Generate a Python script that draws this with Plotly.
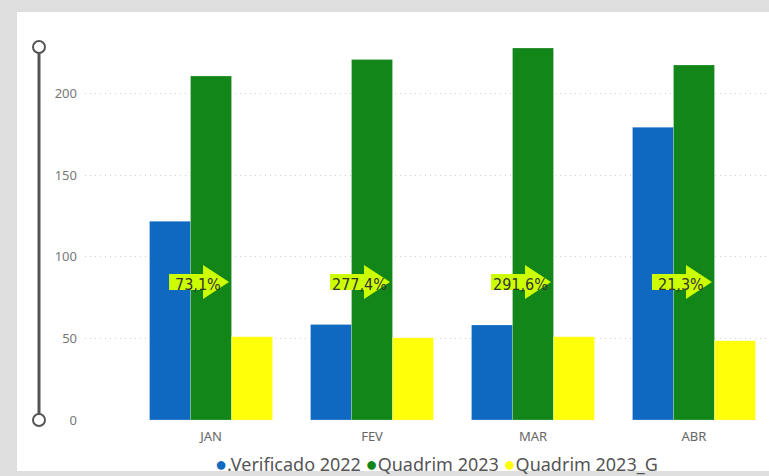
import plotly.graph_objects as go

# Monthly values
months = ["JAN", "FEV", "MAR", "ABR"]
verificado_2022 = [121.7, 58.5, 58.2, 179.3]
quadrim_2023 = [210.7, 220.8, 227.9, 217.5]
quadrim_2023_g = [51.0, 50.4, 51.0, 48.5]
y_ticks = [0, 50, 100, 150, 200]

series_names = [".Verificado 2022", "Quadrim 2023", "Quadrim 2023_G"]
series_colors = ["#1069C1", "#13861A", "#FFFF0A"]

# Growth of Quadrim 2023 over Verificado 2022, shown on the arrows
growth_labels = [
    f"{(g / v - 1) * 100:.1f}".replace(".", ",") + "%"
    for v, g in zip(verificado_2022, quadrim_2023)
]
arrow_level = 84.5

fig = go.Figure()
for name, vals, col in zip(series_names,
                           [verificado_2022, quadrim_2023, quadrim_2023_g],
                           series_colors):
    fig.add_trace(go.Bar(
        x=months, y=vals, name=name, showlegend=False,
        marker=dict(color=col, line=dict(color="rgba(255,255,255,0.35)", width=0.6)),
        hoverinfo="x+y+name",
    ))

shapes = []
annotations = []

# white card behind the chart
PLOT_L, PLOT_R, PLOT_T, PLOT_B = 85, 769, 41, 420
pw, ph = PLOT_R - PLOT_L, PLOT_B - PLOT_T
def px_x(p):
    return (p - PLOT_L) / pw
def px_y(p):
    return (PLOT_B - p) / ph

shapes.append(dict(
    type="rect", xref="paper", yref="paper", layer="below",
    x0=px_x(17), x1=px_x(775), y0=px_y(471), y1=px_y(12),
    fillcolor="white", line=dict(width=0),
))

# range slider decoration on the left
slider_x = px_x(39)
shapes.append(dict(
    type="line", xref="paper", yref="paper",
    x0=slider_x, x1=slider_x, y0=px_y(420), y1=px_y(47),
    line=dict(color="#555555", width=3),
))
for yy in (47, 420):
    shapes.append(dict(
        type="circle", xref="paper", yref="paper",
        xsizemode="pixel", ysizemode="pixel",
        xanchor=slider_x, yanchor=px_y(yy),
        x0=-6, x1=6, y0=-6, y1=6,
        fillcolor="white", line=dict(color="#555555", width=2),
    ))

# growth arrows
arrow_path = "M -42,-8 L -8,-8 L -8,-17 L 18,0 L -8,17 L -8,8 L -42,8 Z"
for i, lab in enumerate(growth_labels):
    shapes.append(dict(
        type="path", xref="x", yref="y",
        xsizemode="pixel", ysizemode="pixel",
        xanchor=i, yanchor=arrow_level,
        path=arrow_path,
        fillcolor="#CCFF00", line=dict(width=0),
    ))
    annotations.append(dict(
        x=i, y=arrow_level, xref="x", yref="y", text=lab,
        showarrow=False, xshift=-13, yshift=-2,
        font=dict(family="DejaVu Sans Condensed, Liberation Sans Narrow", size=16, color="#333333"),
    ))

# compact legend line with round markers
legend_text = " ".join(
    f"<span style='color:{c};font-size:20px'>●</span>{n}"
    for n, c in zip(series_names, series_colors)
)
annotations.append(dict(
    x=px_x(436), y=px_y(463), xref="paper", yref="paper",
    xanchor="center", yanchor="middle", showarrow=False,
    text=legend_text,
    font=dict(family="Segoe UI, Noto Sans, Open Sans", size=18, color="#555555"),
))

fig.update_layout(
    width=769, height=476,
    margin=dict(l=PLOT_L, r=0, t=PLOT_T, b=476 - PLOT_B, autoexpand=False),
    paper_bgcolor="#DEDEDE",
    plot_bgcolor="rgba(0,0,0,0)",
    barmode="group", bargap=0.236, bargroupgap=0,
    showlegend=False,
    shapes=shapes, annotations=annotations,
    font=dict(family="Segoe UI, Noto Sans, Open Sans", color="#666666"),
)
fig.update_xaxes(
    type="category", range=[-0.783, 3.466],
    showgrid=False, showline=False, zeroline=False, ticks="",
    ticklabelstandoff=7,
    tickfont=dict(size=13, color="#666666"),
)
fig.update_yaxes(
    range=[0, 232.2], tickvals=y_ticks,
    showgrid=True, gridcolor="#D0D0D0", griddash="1px,4px", gridwidth=1,
    zeroline=False, showline=False, ticks="",
    ticklabelstandoff=7,
    tickfont=dict(size=13, color="#777777"),
)

fig.write_html("out.html")
